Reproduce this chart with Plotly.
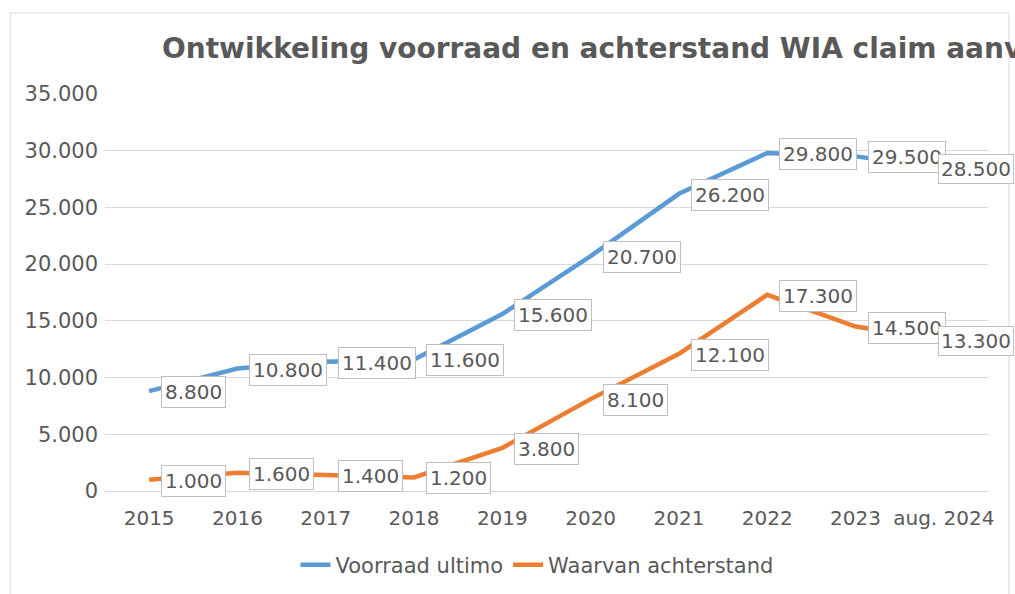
import plotly.graph_objects as go

categories = ["2015", "2016", "2017", "2018", "2019", "2020", "2021", "2022", "2023", "aug. 2024"]
voorraad = [8800, 10800, 11400, 11600, 15600, 20700, 26200, 29800, 29500, 28500]
achterstand = [1000, 1600, 1400, 1200, 3800, 8100, 12100, 17300, 14500, 13300]
y_ticks = [0, 5000, 10000, 15000, 20000, 25000, 30000, 35000]

BLUE = "#5B9BD5"
ORANGE = "#ED7D31"
TXT = "#595959"
FONT = "DejaVu Sans"

W, H = 1015, 594
L, R, T, B = 105, 27, 94, 103
PW, PH = W - L - R, H - T - B

def px(x):
    return (x - L) / PW

def py(y):
    return (H - B - y) / PH

fig = go.Figure()
fig.add_trace(go.Scatter(x=categories, y=voorraad, mode="lines", name="Voorraad ultimo",
                         line=dict(color=BLUE, width=4.5)))
fig.add_trace(go.Scatter(x=categories, y=achterstand, mode="lines", name="Waarvan achterstand",
                         line=dict(color=ORANGE, width=4.5)))

def fmt(v):
    return f"{v:,}".replace(",", ".")

annotations = []
n = len(categories)
for series in (voorraad, achterstand):
    for i, v in enumerate(series):
        t = fmt(v)
        last = i == n - 1
        annotations.append(dict(
            x=i, y=v, xref="x", yref="y", text=t, showarrow=False,
            xanchor="left", yanchor="middle", xshift=-6 if last else 12, yshift=-1,
            font=dict(family=FONT, size=20, color=TXT),
            bgcolor="white", bordercolor="#bfbfbf", borderwidth=1,
            borderpad=2 if last else 3,
        ))

fig.update_layout(
    width=W, height=H,
    margin=dict(l=L, r=R, t=T, b=B, autoexpand=False),
    paper_bgcolor="white", plot_bgcolor="white",
    separators=",.",
    font=dict(family=FONT, color=TXT, size=21),
    title=dict(text="<b>Ontwikkeling voorraad en achterstand WIA claim aanvragen</b>",
               x=px(162), xref="paper", xanchor="left",
               y=1 - 48 / H, yref="container", yanchor="middle",
               pad=dict(l=0, r=0, t=0, b=0),
               font=dict(family=FONT, size=28, color=TXT)),
    xaxis=dict(type="category", range=[-0.5, n - 0.5], showgrid=False,
               showline=True, linecolor="#d9d9d9", linewidth=1, automargin=False,
               ticks="", tickfont=dict(family=FONT, size=20, color=TXT), ticklabelstandoff=9,
               zeroline=False),
    yaxis=dict(range=[0, 35000], tickvals=y_ticks, tickformat=",d", showgrid=True,
               gridcolor="#d9d9d9", gridwidth=1, zeroline=False, showline=False, ticks="",
               automargin=False,
               tickfont=dict(family=FONT, size=21, color=TXT), ticklabelstandoff=6),
    legend=dict(orientation="h", x=px(537), xanchor="center", y=py(565), yanchor="middle",
                font=dict(family=FONT, size=21, color=TXT), itemwidth=30, tracegroupgap=0),
    annotations=annotations,
    shapes=[dict(type="rect", xref="paper", yref="paper", x0=px(10), x1=px(1009),
                 y0=py(600), y1=py(13), line=dict(color="#d9d9d9", width=1), layer="below")],
    showlegend=True,
)

fig.write_html("out.html", config={"displayModeBar": False},
               post_script="document.body.style.margin='0px';")
